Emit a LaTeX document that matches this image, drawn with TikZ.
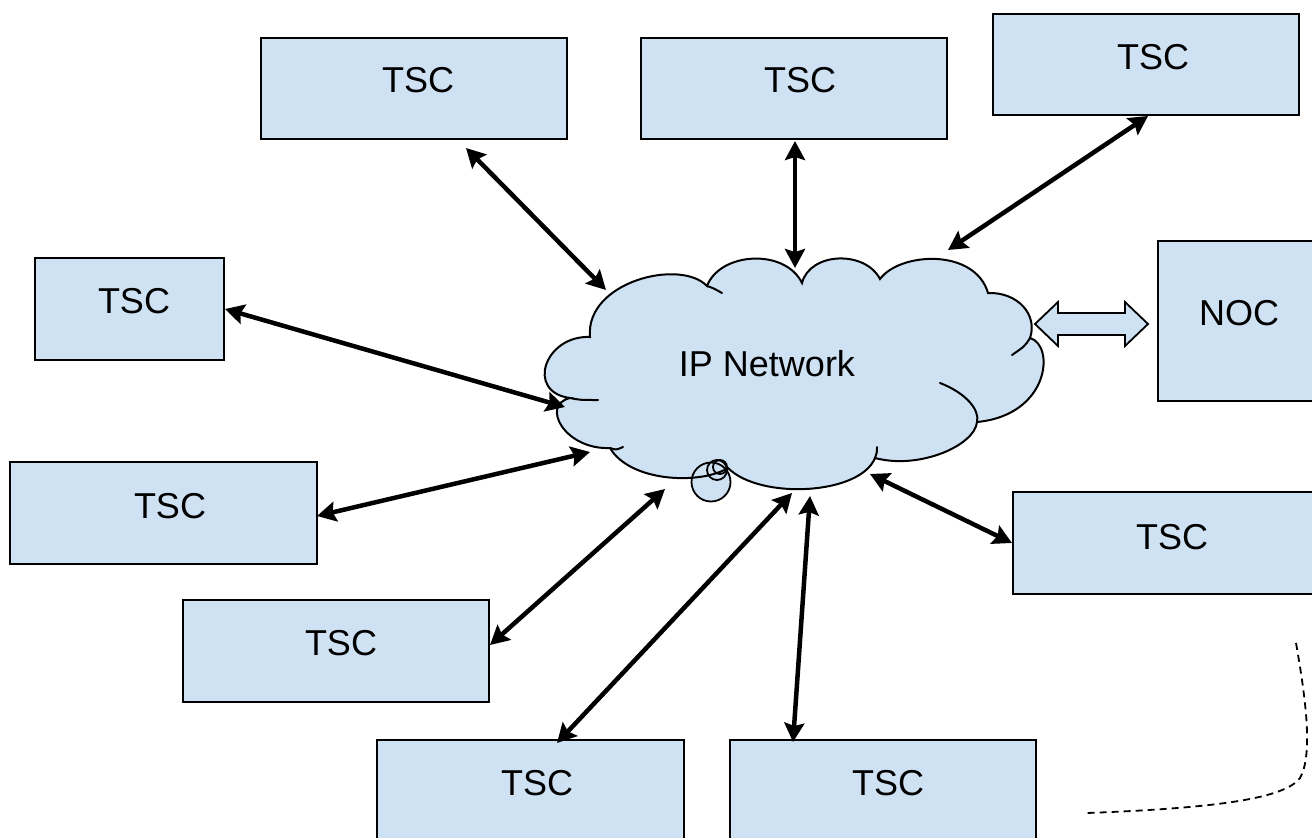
\documentclass[tikz,border=0pt]{standalone}
\usepackage{fontspec}
\setmainfont{Liberation Sans}
\usetikzlibrary{arrows.meta}
\definecolor{lblue}{HTML}{CFE2F3}
\tikzset{
  box/.style={draw=black, line width=1.6pt, fill=lblue, inner sep=0pt},
  lbl/.style={anchor=base, inner sep=0pt, font=\fontsize{36}{40}\selectfont},
  conn/.style={line width=4.5pt, {Stealth[length=19pt,width=20pt,inset=3pt]}-{Stealth[length=19pt,width=20pt,inset=3pt]}},
  cloudline/.style={line width=2pt, line cap=round},
}
\begin{document}
\begin{tikzpicture}[x=1pt,y=-1pt]
\useasboundingbox (0,0) rectangle (1312,838);
\clip (0,0) rectangle (1312,838);
\fill[white] (0,0) rectangle (1312,838);

% boxes
\node[box, minimum width=306pt, minimum height=101pt] (b1) at (414,88.5) {};
\node[box, minimum width=306pt, minimum height=101pt] (b2) at (794,88.5) {};
\node[box, minimum width=306pt, minimum height=101pt] (b3) at (1146,64.5) {};
\node[box, minimum width=189pt, minimum height=102pt] (b4) at (129.5,309) {};
\node[box, minimum width=170pt, minimum height=160pt] (b5) at (1243,321) {};
\node[box, minimum width=307pt, minimum height=102pt] (b6) at (163.5,513) {};
\node[box, minimum width=306pt, minimum height=102pt] (b7) at (336,651) {};
\node[box, minimum width=307pt, minimum height=110pt] (b8) at (530.5,795) {};
\node[box, minimum width=306pt, minimum height=110pt] (b9) at (883,795) {};
\node[box, minimum width=307pt, minimum height=102pt] (b10) at (1166.5,543) {};

\node[lbl] (t1) at (418,92) {TSC};
\node[lbl] (t2) at (800,92) {TSC};
\node[lbl] (t3) at (1153,69) {TSC};
\node[lbl] (t4) at (134,313) {TSC};
\node[lbl] (t5) at (1239,325) {NOC};
\node[lbl] (t6) at (170,518) {TSC};
\node[lbl] (t7) at (341,655) {TSC};
\node[lbl] (t8) at (537,795) {TSC};
\node[lbl] (t9) at (888,795) {TSC};
\node[lbl] (t10) at (1172,549) {TSC};

% cloud
\def\cloudpath{(590,337) .. controls (585,282) and (680,258) .. (707,286)
  .. controls (720,252) and (785,248) .. (802,283)
  .. controls (810,252) and (865,250) .. (880,279)
  .. controls (900,252) and (975,248) .. (988,293)
  .. controls (1018,292) and (1038,315) .. (1030,338)
  .. controls (1055,345) and (1050,415) .. (977,422)
  .. controls (975,445) and (920,470) .. (875,458)
  .. controls (860,495) and (760,500) .. (728,468)
  .. controls (700,485) and (630,482) .. (610,448)
  .. controls (565,450) and (540,405) .. (570,398)
  .. controls (525,392) and (545,335) .. (590,337) -- cycle}
\fill[lblue] \cloudpath;
\filldraw[fill=lblue, line width=1.8pt] (711,482) circle[radius=19.5pt];
\draw[line width=1.8pt] (717,470) circle[radius=10pt];
\draw[line width=1.8pt] (720,467) circle[radius=7pt];
\draw[cloudline] \cloudpath;
\draw[cloudline] (707,286) .. controls (713,288) .. (722,293);
\draw[cloudline] (1030,338) .. controls (1025,346) .. (1012,355);
\draw[cloudline] (940,383) .. controls (966,393) and (980,410) .. (977,422);
\draw[cloudline] (877,447) .. controls (877,452) .. (875,458);
\draw[cloudline] (610,448) .. controls (616,450) .. (623,447);
\draw[cloudline] (570,398) .. controls (580,400) .. (598,400);
\node[inner sep=0pt, anchor=base, font=\fontsize{36}{40}\selectfont] (cloud) at (767,376) {IP Network};

% connector end points
\coordinate (a1) at (466,148); \coordinate (c1) at (606,290);
\coordinate (a2) at (795,141); \coordinate (c2) at (795,268);
\coordinate (a3) at (1148,116); \coordinate (c3) at (948,250);
\coordinate (a4) at (225,309); \coordinate (c4) at (565,407);
\coordinate (a6) at (317,516); \coordinate (c6) at (590,452);
\coordinate (a7) at (490,645); \coordinate (c7) at (665,489);
\coordinate (a8) at (557,743); \coordinate (c8) at (792,493);
\coordinate (a9) at (793,742); \coordinate (c9) at (810,496);
\coordinate (a10) at (1012,543); \coordinate (c10) at (870,474);
\foreach \i in {1,2,3,4,6,7,8,9,10} { \draw[conn] (a\i) -- (c\i); }

% NOC block arrow
\coordinate (nl) at (1035,324); \coordinate (nr) at (1148,324);
\filldraw[fill=lblue, line width=1.8pt, line join=miter]
  (nl) -- ++(23,-22) -- ++(0,11) -- ++(67,0) -- ++(0,-11) -- (nr)
  -- ++(-23,22) -- ++(0,-11) -- ++(-67,0) -- ++(0,11) -- cycle;

% dashed curve
\coordinate (d1) at (1296,643); \coordinate (d2) at (1087,813);
\draw[line width=1.8pt, dash pattern=on 7pt off 5pt]
  (d1) .. controls (1306,700) and (1313,755) .. (1300,778)
  .. controls (1285,798) and (1220,808) .. (d2);
\end{tikzpicture}
\end{document}
